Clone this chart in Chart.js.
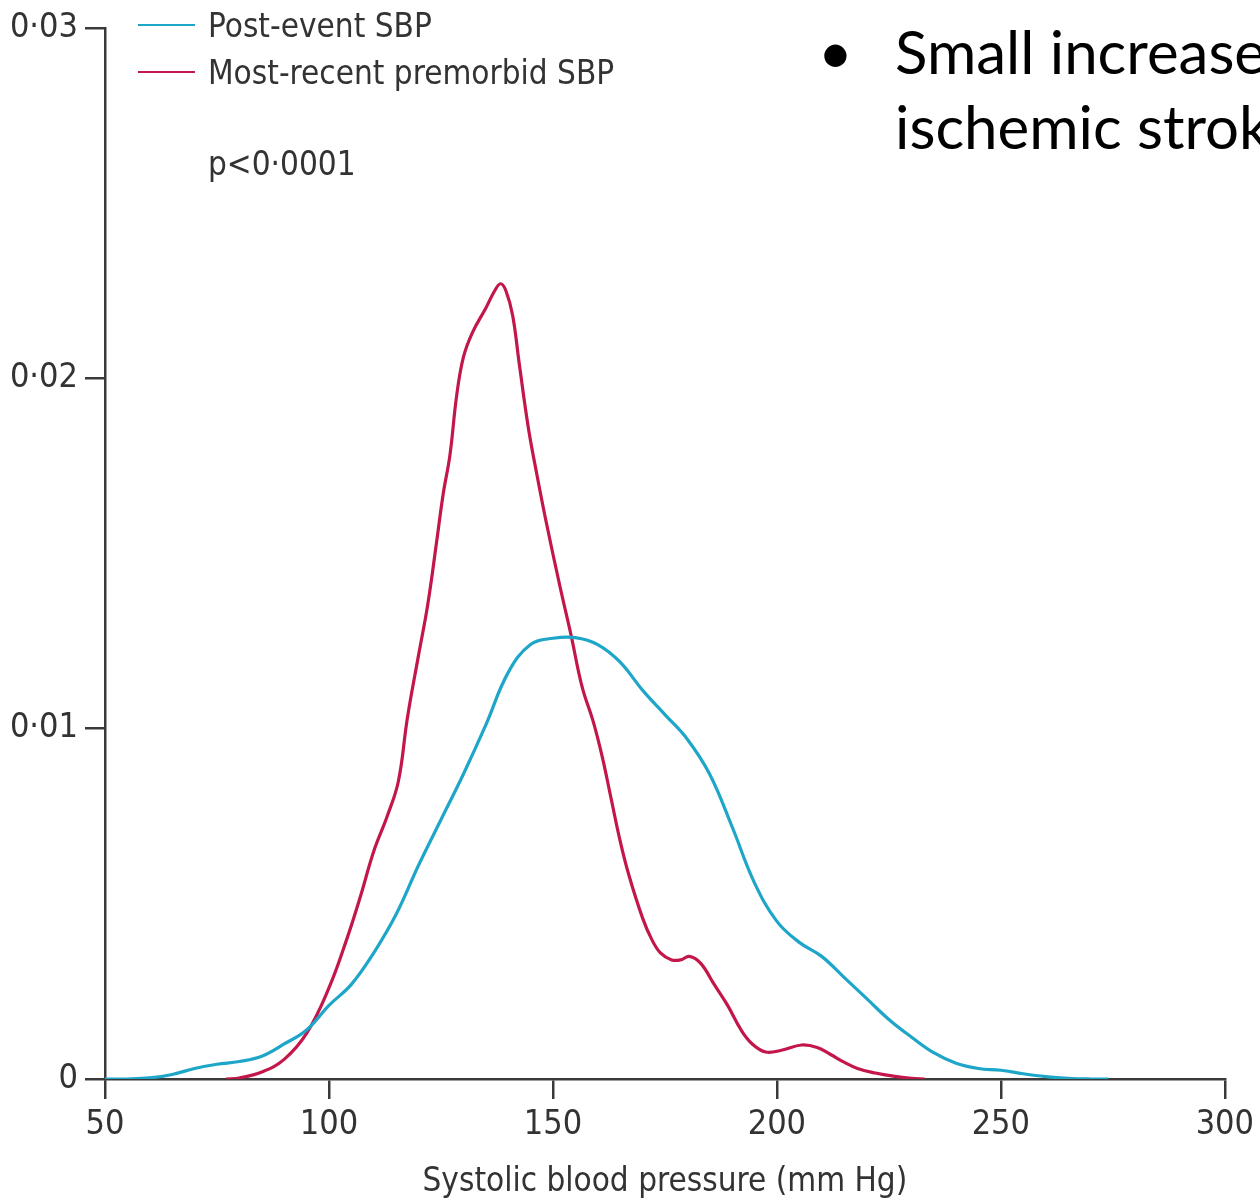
<!DOCTYPE html>
<html>
<head>
<meta charset="utf-8">
<script src="https://cdn.jsdelivr.net/npm/chart.js@4.4.1/dist/chart.umd.min.js"></script>
<style>
  html, body { margin: 0; padding: 0; background: #fff; overflow: hidden; }
  #wrap { position: relative; width: 1260px; height: 1203px; overflow: hidden; }
  .note { position: absolute; font-family: Lato, 'Open Sans', sans-serif; font-size: 60px; color: #000; white-space: nowrap; line-height: 75px; }
</style>
</head>
<body>
<div id="wrap">
  <canvas id="chart" width="1260" height="1203"></canvas>
  <div class="note" style="left:818px; top:14px;">•</div>
  <div class="note" style="left:895px; top:14px;">Small increase<br>ischemic stroke</div>
</div>
<script>
// systolic BP (mm Hg) and density
const postX = [50, 55, 60, 65, 70, 75, 80, 85, 90, 95, 100, 105, 110, 115, 120, 125, 130, 135, 140, 145,
  150, 155, 160, 165, 170, 175, 180, 185, 190, 195, 200, 205, 210, 215, 220, 225, 230, 235, 240, 245,
  250, 255, 260, 265, 270, 274];
const postY = [0, 0, 0.00003, 0.00013, 0.0003, 0.00042, 0.0005, 0.00065, 0.001, 0.0014, 0.0021, 0.0027,
  0.0036, 0.0047, 0.0061, 0.0074, 0.0087, 0.0101, 0.0116, 0.0124, 0.01258, 0.0126, 0.0124, 0.0119,
  0.0111, 0.0104, 0.0097, 0.0087, 0.0072, 0.0056, 0.0045, 0.0039, 0.0035, 0.0029, 0.0023, 0.0017,
  0.0012, 0.00075, 0.00045, 0.0003, 0.00025, 0.00015, 0.00007, 0.00002, 0, 0];

const preX = [77, 80, 85, 90, 95, 100, 104, 107, 110, 113, 115.5, 117.5, 120, 122, 124, 125.5, 127, 128.5,
  130, 132, 135, 137, 138.3, 139.5, 141, 142.5, 144.5, 146.5, 148.5, 151.5, 154, 156.5, 159, 161, 163,
  165, 167, 170, 172, 174, 176.5, 178.5, 180.5, 183, 186, 189, 192, 194.5, 197.5, 201, 205.5, 209, 212,
  215, 218, 222, 226, 230, 233];
const preY = [0, 0.00003, 0.0002, 0.00056, 0.0013, 0.0026, 0.004, 0.0052, 0.0065, 0.0075, 0.0085, 0.0103,
  0.0121, 0.0135, 0.0153, 0.0167, 0.0178, 0.0195, 0.0206, 0.0213, 0.022, 0.0225, 0.0227, 0.0225, 0.0218,
  0.0204, 0.0186, 0.0172, 0.0159, 0.0141, 0.0127, 0.0112, 0.0102, 0.0092, 0.008, 0.0068, 0.0058, 0.0046,
  0.004, 0.0036, 0.0034, 0.0034, 0.0035, 0.0033, 0.0027, 0.0021, 0.0014, 0.001, 0.00077, 0.00082,
  0.00097, 0.0009, 0.0007, 0.00048, 0.0003, 0.00017, 0.00008, 0.00002, 0];

const seriesNames = ['Post-event SBP', 'Most-recent premorbid SBP'];
const seriesColors = ['#1ea6c9', '#c3164a'];
const xTicks = [50, 100, 150, 200, 250, 300];
const yTicks = [0, 0.01, 0.02, 0.03];
const pValue = 'p<0·0001';

const axisFont = '"DejaVu Sans Condensed", "Liberation Sans", sans-serif';
const axisColor = '#3a3a3a';

const toPoints = (xs, ys) => xs.map((x, i) => ({ x: x, y: ys[i] }));

// legend and p value drawn inside the plot, top left
const annotate = {
    id: 'annotate',
    afterDraw(chart) {
        const ctx = chart.ctx;
        ctx.save();
        ctx.font = '33px ' + axisFont;
        ctx.textBaseline = 'middle';
        chart.data.datasets.forEach((ds, i) => {
            const y = 25 + i * 47;
            ctx.strokeStyle = ds.borderColor;
            ctx.lineWidth = 2;
            ctx.beginPath();
            ctx.moveTo(138, y);
            ctx.lineTo(195, y);
            ctx.stroke();
            ctx.fillStyle = '#333';
            ctx.fillText(ds.label, 208, y + 3);
        });
        ctx.fillText(pValue, 208, 166);
        ctx.restore();
    }
};

new Chart(document.getElementById('chart').getContext('2d'), {
    type: 'line',
    data: {
        datasets: [
            {
                label: seriesNames[0],
                data: toPoints(postX, postY),
                borderColor: seriesColors[0],
            },
            {
                label: seriesNames[1],
                data: toPoints(preX, preY),
                borderColor: seriesColors[1],
            },
        ],
    },
    options: {
        responsive: false,
        animation: false,
        layout: { padding: { top: 28, right: 35, left: 0, bottom: 0 } },
        elements: {
            line: { borderWidth: 3.2, tension: 0.4, fill: false },
            point: { radius: 0 },
        },
        plugins: {
            legend: { display: false },
            tooltip: { enabled: false },
        },
        scales: {
            x: {
                type: 'linear',
                min: 50,
                max: 300,
                afterBuildTicks: (scale) => { scale.ticks = xTicks.map((v) => ({ value: v })); },
                afterFit: (scale) => { scale.height = 124; },
                border: { display: true, color: axisColor, width: 2.5 },
                grid: { drawOnChartArea: false, drawTicks: true, tickLength: 20, color: axisColor, lineWidth: 2.5 },
                ticks: {
                    color: '#333',
                    padding: 6,
                    font: { family: axisFont, size: 34 },
                    callback: (v) => String(v),
                },
                title: {
                    display: true,
                    text: 'Systolic blood pressure (mm Hg)',
                    color: '#333',
                    font: { family: axisFont, size: 33 },
                    padding: { top: 0, bottom: 1 },
                },
            },
            y: {
                min: 0,
                max: 0.03,
                afterBuildTicks: (scale) => { scale.ticks = yTicks.map((v) => ({ value: v })); },
                afterFit: (scale) => { scale.width = 105; },
                border: { display: true, color: axisColor, width: 2.5 },
                grid: { drawOnChartArea: false, drawTicks: true, tickLength: 20, color: axisColor, lineWidth: 2.5 },
                ticks: {
                    color: '#333',
                    padding: 7,
                    font: { family: axisFont, size: 34 },
                    callback: (v) => (v === 0 ? '0' : v.toFixed(2).replace('.', '·')),
                },
            },
        },
    },
    plugins: [annotate],
});
</script>
</body>
</html>
